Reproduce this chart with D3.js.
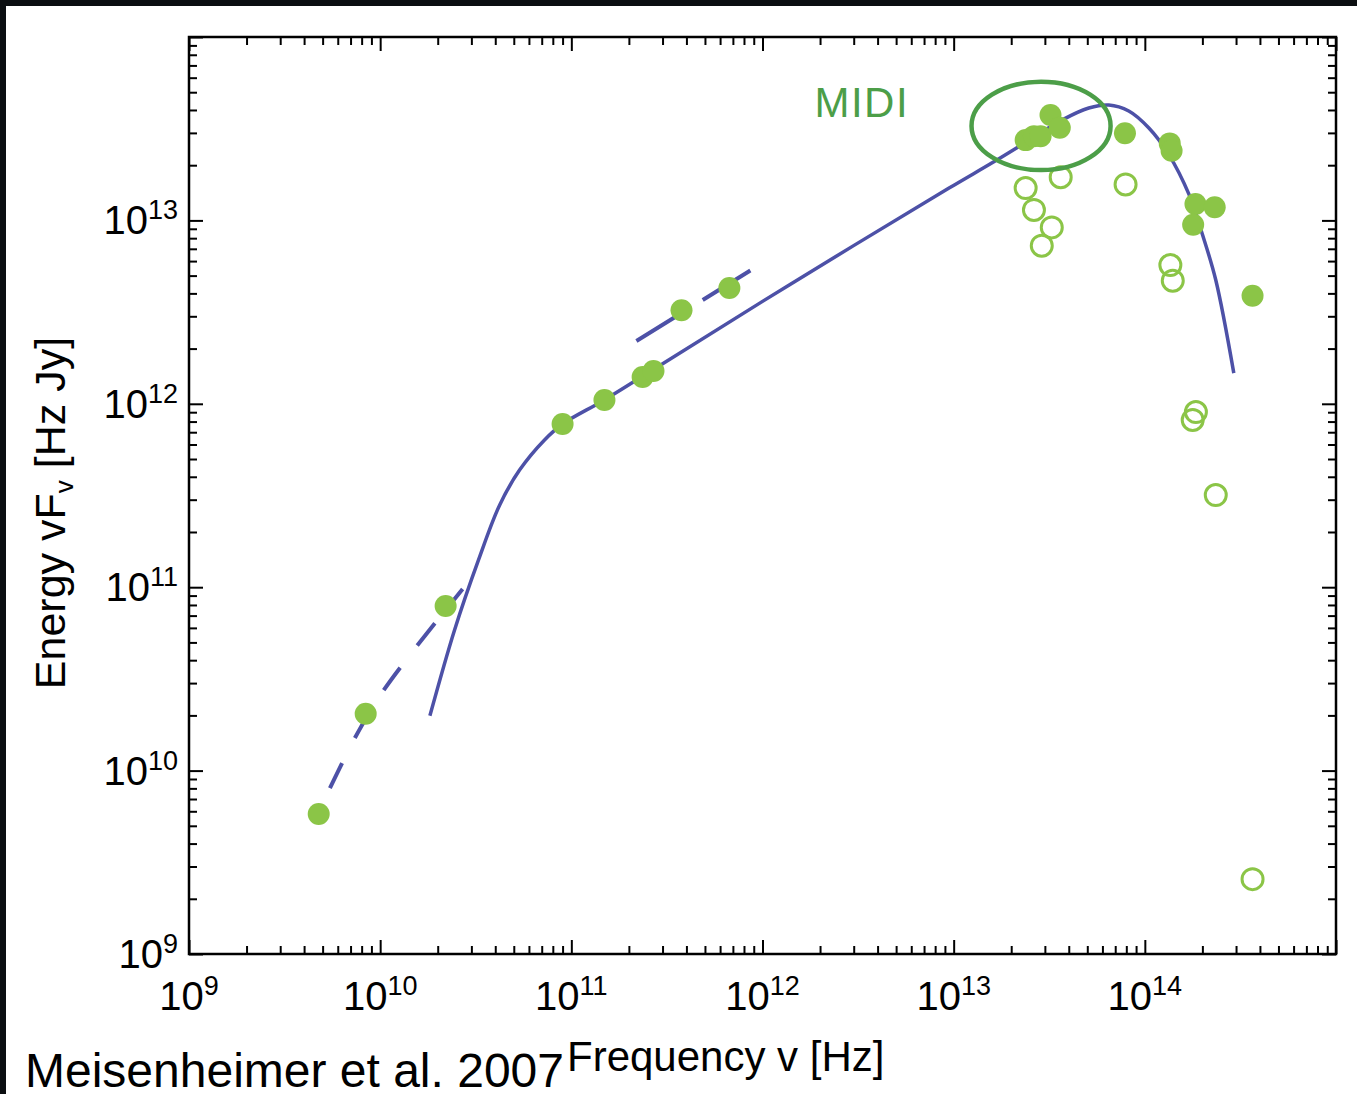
<!DOCTYPE html>
<html lang="en">
<head>
  <meta charset="UTF-8">
  <title>SED</title>
  <script src="https://d3js.org/d3.v7.min.js"></script>
  <style>
    body { margin: 0; background: #fff; }
    text { font-family: "Liberation Sans", Arial, Helvetica, sans-serif; }
  </style>
</head>
<body>
  <script>
    // measured points (filled = detections, open = other)
    var filledNu = [4.77e9, 8.4e9, 2.2e10, 9.0e10, 1.49e11, 2.36e11, 2.69e11, 3.77e11, 6.71e11,
                    2.38e13, 2.63e13, 2.85e13, 3.21e13, 3.59e13, 7.87e13, 1.35e14, 1.38e14,
                    1.84e14, 2.32e14, 1.79e14, 3.66e14];
    var filledE  = [5.8e9, 2.04e10, 7.9e10, 7.76e11, 1.05e12, 1.40e12, 1.51e12, 3.24e12, 4.28e12,
                    2.74e13, 2.88e13, 2.88e13, 3.76e13, 3.20e13, 2.99e13, 2.63e13, 2.40e13,
                    1.23e13, 1.18e13, 9.48e12, 3.88e12];

    var openNu = [2.38e13, 3.63e13, 7.93e13, 2.63e13, 3.26e13, 2.89e13, 1.36e14, 1.40e14,
                  1.85e14, 1.78e14, 2.35e14, 3.66e14];
    var openE  = [1.50e13, 1.72e13, 1.57e13, 1.14e13, 9.16e12, 7.28e12, 5.71e12, 4.69e12,
                  9.02e11, 8.17e11, 3.18e11, 2.56e9];

    // model curve
    var modelNu = [1.82e10, 2.45e10, 3.27e10, 4.22e10, 5.36e10, 7.24e10, 9.0e10, 1.49e11, 2.99e11,
                   1.38e12, 9.46e12, 1.59e13, 2.39e13, 3.68e13, 5.09e13, 6.48e13, 8.24e13,
                   1.05e14, 1.33e14, 1.70e14, 1.99e14, 2.35e14, 2.92e14];
    var modelE  = [1.99e10, 5.85e10, 1.41e11, 2.81e11, 4.35e11, 6.35e11, 7.76e11, 1.05e12, 1.65e12,
                   4.45e12, 1.50e13, 2.06e13, 2.67e13, 3.52e13, 4.10e13, 4.26e13, 3.95e13,
                   3.19e13, 2.30e13, 1.39e13, 8.53e12, 4.73e12, 1.47e12];

    // dashed power-law fits
    var dashLowNu = [5.46e9, 7.36e9, 9.95e9, 1.49e10, 2.70e10];
    var dashLowE  = [8.02e9, 1.50e10, 2.55e10, 4.51e10, 9.77e10];
    var dashHighNu = [2.19e11, 9.06e11];
    var dashHighE  = [2.20e12, 5.50e12];

    // MIDI ellipse bounds
    var midiNu = [1.24e13, 6.62e13];
    var midiE  = [1.88e13, 5.70e13];
    var midiLabelNu = 1.87e12, midiLabelE = 3.66e13;

    var xExps = [9, 10, 11, 12, 13, 14];
    var yExps = [9, 10, 11, 12, 13];

    var width = 1357, height = 1094;
    var pLeft = 189, pRight = 1336, pTop = 37, pBottom = 954;

    var svg = d3.select("body").append("svg")
      .attr("width", width)
      .attr("height", height);

    svg.append("rect").attr("width", width).attr("height", height).attr("fill", "#fff");
    // dark frame edges of the slide
    svg.append("rect").attr("x", 0).attr("y", 0).attr("width", width).attr("height", 6).attr("fill", "#0b0e11");
    svg.append("rect").attr("x", 0).attr("y", 0).attr("width", 6).attr("height", height).attr("fill", "#0b0e11");

    var x = d3.scaleLog().domain([1e9, 1e15]).range([pLeft, pRight]);
    var y = d3.scaleLog().domain([1e9, 1e14]).range([pBottom, pTop]);

    function ticks(lo, hi) {
      var major = [], minor = [];
      for (var k = lo; k < hi; k++) {
        major.push(Math.pow(10, k));
        for (var m = 2; m <= 9; m++) minor.push(m * Math.pow(10, k));
      }
      major.push(Math.pow(10, hi));
      return { major: major, minor: minor };
    }
    var xt = ticks(9, 15), yt = ticks(9, 14);

    function drawAxis(gen, scale, tv, tx, ty) {
      [[tv.major, 14], [tv.minor, 8]].forEach(function (p) {
        var g = svg.append("g")
          .attr("transform", "translate(" + tx + "," + ty + ")")
          .call(gen(scale).tickValues(p[0]).tickSizeInner(-p[1]).tickSizeOuter(0).tickFormat(""));
        g.select(".domain").remove();
        g.selectAll("line").attr("stroke", "#000").attr("stroke-width", 2);
      });
    }
    drawAxis(d3.axisBottom, x, xt, 0, pBottom);
    drawAxis(d3.axisTop, x, xt, 0, pTop);
    drawAxis(d3.axisLeft, y, yt, pLeft, 0);
    drawAxis(d3.axisRight, y, yt, pRight, 0);

    svg.append("rect")
      .attr("x", pLeft).attr("y", pTop)
      .attr("width", pRight - pLeft).attr("height", pBottom - pTop)
      .attr("fill", "none").attr("stroke", "#000").attr("stroke-width", 2.5);

    // tick labels
    var xl = svg.selectAll(".xl").data(xExps).enter().append("text")
      .attr("class", "xl")
      .attr("x", function (d) { return x(Math.pow(10, d)); })
      .attr("y", pBottom + 56)
      .attr("text-anchor", "middle")
      .style("font-size", "40px");
    xl.append("tspan").text("10");
    xl.append("tspan").attr("dy", -15).style("font-size", "27px").text(function (d) { return d; });

    var yl = svg.selectAll(".yl").data(yExps).enter().append("text")
      .attr("class", "yl")
      .attr("x", pLeft - 11)
      .attr("y", function (d) { return y(Math.pow(10, d)) + 14; })
      .attr("text-anchor", "end")
      .style("font-size", "40px");
    yl.append("tspan").text("10");
    yl.append("tspan").attr("dy", -15).style("font-size", "27px").text(function (d) { return d; });

    // axis titles
    var yTitle = svg.append("text")
      .attr("transform", "translate(65,513) rotate(-90)")
      .attr("text-anchor", "middle")
      .style("font-size", "43px");
    yTitle.append("tspan").text("Energy vF");
    yTitle.append("tspan").attr("dy", 8).style("font-size", "26px").text("v");
    yTitle.append("tspan").attr("dy", -8).text(" [Hz Jy]");

    svg.append("text").attr("x", 25).attr("y", 1087)
      .style("font-size", "48px").text("Meisenheimer et al. 2007");
    svg.append("text").attr("x", 567).attr("y", 1071)
      .style("font-size", "42px").text("Frequency v [Hz]");

    // lines
    var blue = "#4d51a7";
    var line = d3.line()
      .x(function (d) { return x(d[0]); })
      .y(function (d) { return y(d[1]); })
      .curve(d3.curveCatmullRom.alpha(0.5));

    svg.append("path")
      .datum(d3.zip(modelNu, modelE))
      .attr("d", line)
      .attr("fill", "none").attr("stroke", blue).attr("stroke-width", 3.5);

    svg.append("path")
      .datum(d3.zip(dashLowNu, dashLowE))
      .attr("d", line)
      .attr("fill", "none").attr("stroke", blue).attr("stroke-width", 4)
      .attr("stroke-dasharray", "28,28");

    svg.append("path")
      .datum(d3.zip(dashHighNu, dashHighE))
      .attr("d", line)
      .attr("fill", "none").attr("stroke", blue).attr("stroke-width", 4)
      .attr("stroke-dasharray", "56,22");

    // points
    var green = "#8bc547";
    svg.selectAll(".open").data(d3.zip(openNu, openE)).enter().append("circle")
      .attr("class", "open")
      .attr("cx", function (d) { return x(d[0]); })
      .attr("cy", function (d) { return y(d[1]); })
      .attr("r", 10.5)
      .attr("fill", "none").attr("stroke", green).attr("stroke-width", 3);

    svg.selectAll(".filled").data(d3.zip(filledNu, filledE)).enter().append("circle")
      .attr("class", "filled")
      .attr("cx", function (d) { return x(d[0]); })
      .attr("cy", function (d) { return y(d[1]); })
      .attr("r", 11)
      .attr("fill", green);

    // MIDI annotation
    var dark = "#4c9e48";
    var ex0 = x(midiNu[0]), ex1 = x(midiNu[1]), ey0 = y(midiE[1]), ey1 = y(midiE[0]);
    svg.append("ellipse")
      .attr("cx", (ex0 + ex1) / 2).attr("cy", (ey0 + ey1) / 2)
      .attr("rx", (ex1 - ex0) / 2).attr("ry", (ey1 - ey0) / 2)
      .attr("fill", "none").attr("stroke", dark).attr("stroke-width", 4.5);

    svg.append("text")
      .attr("x", x(midiLabelNu)).attr("y", y(midiLabelE))
      .attr("fill", dark)
      .style("font-size", "42px")
      .style("letter-spacing", "1.5px")
      .text("MIDI");
  </script>
</body>
</html>
